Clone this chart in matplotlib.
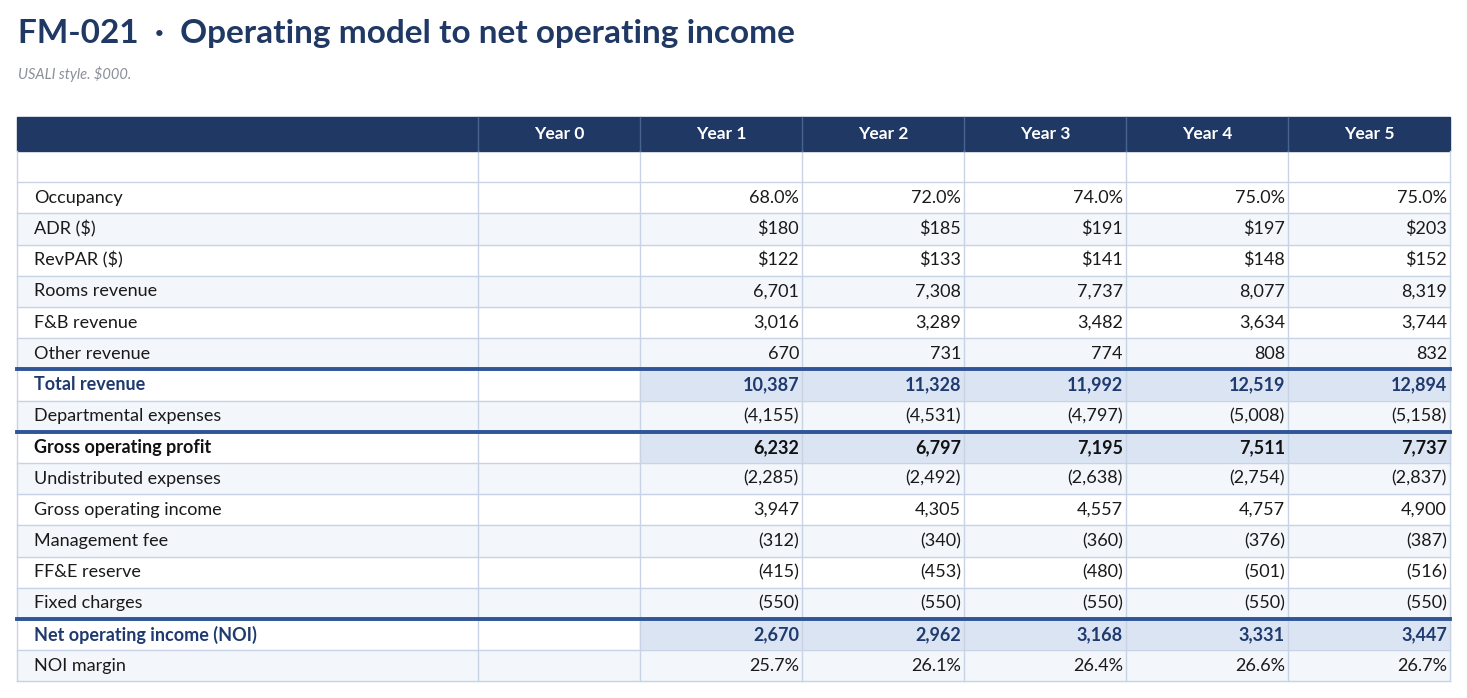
import matplotlib.pyplot as plt
from matplotlib.patches import Rectangle

plt.rcParams['font.family'] = ['Lato', 'DejaVu Sans']

title = "FM-021  \u00b7  Operating model to net operating income"
subtitle = "USALI style. $000."
columns = ["Year 0", "Year 1", "Year 2", "Year 3", "Year 4", "Year 5"]

labels = ["", "Occupancy", "ADR ($)", "RevPAR ($)", "Rooms revenue", "F&B revenue",
          "Other revenue", "Total revenue", "Departmental expenses",
          "Gross operating profit", "Undistributed expenses", "Gross operating income",
          "Management fee", "FF&E reserve", "Fixed charges",
          "Net operating income (NOI)", "NOI margin"]
values = [
    ["", "", "", "", "", ""],
    ["", "68.0%", "72.0%", "74.0%", "75.0%", "75.0%"],
    ["", "$180", "$185", "$191", "$197", "$203"],
    ["", "$122", "$133", "$141", "$148", "$152"],
    ["", "6,701", "7,308", "7,737", "8,077", "8,319"],
    ["", "3,016", "3,289", "3,482", "3,634", "3,744"],
    ["", "670", "731", "774", "808", "832"],
    ["", "10,387", "11,328", "11,992", "12,519", "12,894"],
    ["", "(4,155)", "(4,531)", "(4,797)", "(5,008)", "(5,158)"],
    ["", "6,232", "6,797", "7,195", "7,511", "7,737"],
    ["", "(2,285)", "(2,492)", "(2,638)", "(2,754)", "(2,837)"],
    ["", "3,947", "4,305", "4,557", "4,757", "4,900"],
    ["", "(312)", "(340)", "(360)", "(376)", "(387)"],
    ["", "(415)", "(453)", "(480)", "(501)", "(516)"],
    ["", "(550)", "(550)", "(550)", "(550)", "(550)"],
    ["", "2,670", "2,962", "3,168", "3,331", "3,447"],
    ["", "25.7%", "26.1%", "26.4%", "26.6%", "26.7%"],
]
# subtotal rows: label -> text colour
totals = {"Total revenue": "#1f3a6e", "Gross operating profit": "#111111",
          "Net operating income (NOI)": "#1f3a6e"}

navy = "#1f3864"
grid = "#c8d4e6"
stripe = "#f3f6fb"
hilite = "#dae4f3"

fig = plt.figure(figsize=(14.67, 6.98), dpi=100)
ax = fig.add_axes([0, 0, 1, 1])
ax.set_xlim(0, 1467)
ax.set_ylim(698, 0)
ax.axis("off")

ax.text(18, 33, title, fontsize=24, fontweight="bold", color=navy, va="center")
ax.text(18, 74, subtitle, fontsize=10.5, style="italic", color="#8a8f99", va="center")

left, label_w, col_w = 17, 461, 162
header_top, header_h = 117, 34
row_h = 31.2
right = left + label_w + col_w * len(columns)
col_x = [left + label_w + i * col_w for i in range(len(columns) + 1)]

# header
ax.add_patch(Rectangle((left, header_top), right - left, header_h, color=navy, zorder=1))
for i, c in enumerate(columns):
    ax.text(col_x[i] + col_w / 2, header_top + header_h / 2, c, color="white",
            fontsize=12.5, fontweight="bold", ha="center", va="center", zorder=3)
for x in col_x[:-1]:
    ax.plot([x, x], [header_top, header_top + header_h], color="#4a6491", lw=1, zorder=2)

top = header_top + header_h
for r, lab in enumerate(labels):
    y0 = top + r * row_h
    yc = y0 + row_h / 2
    if r % 2 == 0 and r > 0 and lab not in totals:
        ax.add_patch(Rectangle((left, y0), right - left, row_h, color=stripe, zorder=0))
    if lab in totals:
        ax.add_patch(Rectangle((col_x[1], y0), right - col_x[1], row_h, color=hilite, zorder=0))
    bold = lab in totals
    color = totals.get(lab, "#1a1a1a")
    ax.text(left + 17, yc, lab, fontsize=13, color=color,
            fontweight="bold" if bold else "normal", va="center", zorder=3)
    for i, v in enumerate(values[r]):
        ax.text(col_x[i + 1] - 3, yc, v, fontsize=13, color=color,
                fontweight="bold" if bold else "normal", ha="right", va="center", zorder=3)
    ax.plot([left, right], [y0 + row_h, y0 + row_h], color=grid, lw=1, zorder=1)
    if bold:
        ax.plot([left, right], [y0, y0], color="#2f5597", lw=2.8, zorder=2)

bottom = top + len(labels) * row_h
for x in [left] + col_x:
    ax.plot([x, x], [top, bottom], color=grid, lw=1, zorder=1)

fig.savefig("out.png", dpi=100)
